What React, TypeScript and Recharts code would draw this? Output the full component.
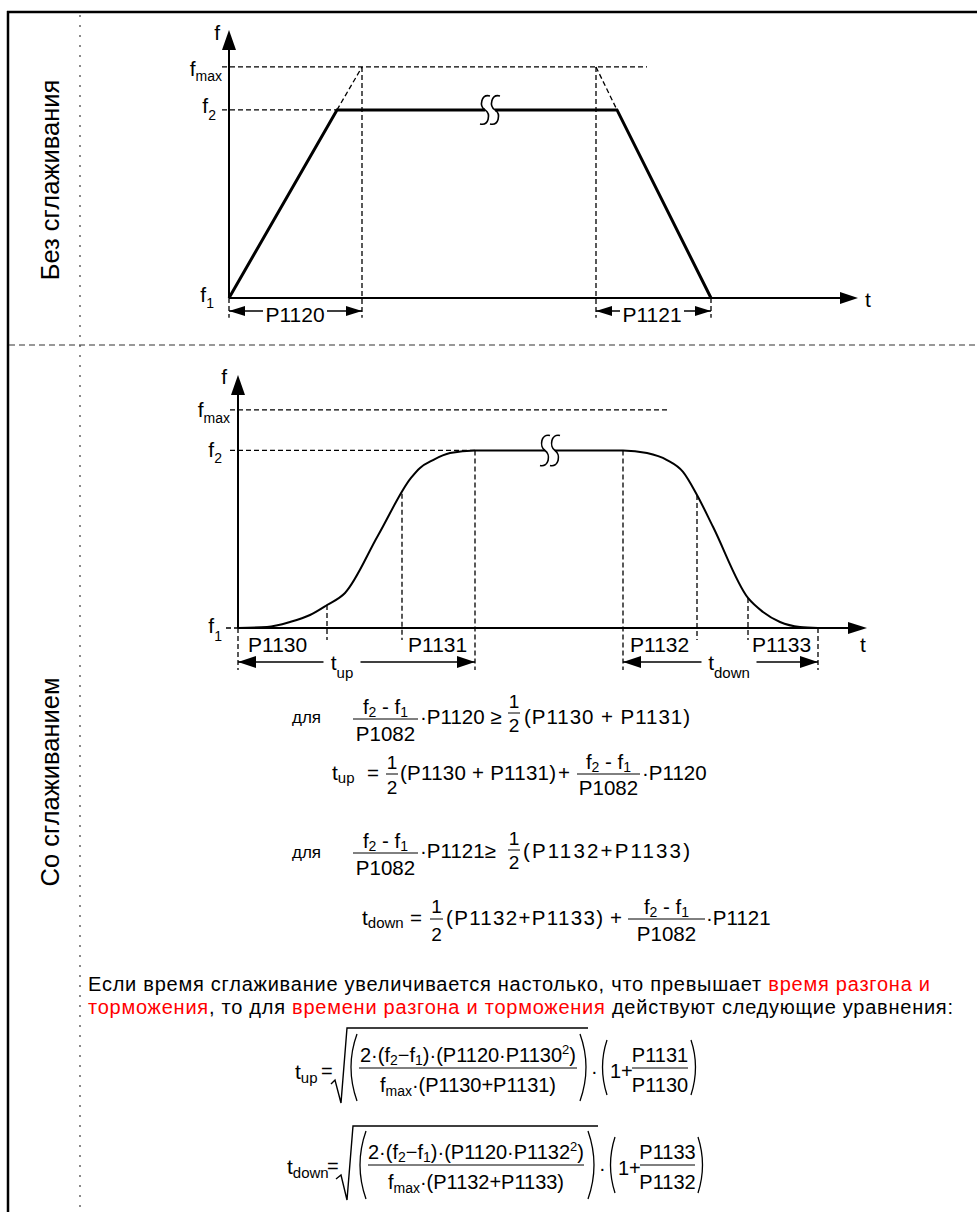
import React from 'react';
import { LineChart, Line, XAxis, YAxis, ReferenceLine, ReferenceDot } from 'recharts';

// ---------------- values ----------------
// frequency levels (chart units)
const F1 = 0;
const F2 = 40.7;
const FMAX = 50;
const F_AXIS = 58;
const T_AXIS_END = 629;

// top panel: ramp without smoothing
const topTime = [0, 108, 388, 482];
const topFreq = [0, 40.7, 40.7, 0];
const topGuideT = [0, 133, 367, 482];
const topGuideTop = [0, 50, 50, 0];
const topGuideBottom = -4.3;
const topExtFrom = [[108, 40.7], [367, 50]];
const topExtTo = [[133, 50], [388, 40.7]];
const topLevelFrom = -7;
const topFmaxTo = 418;
const topF2To = 108;
const topDimLabels = ['P1120', 'P1121'];
const topDimFrom = [0, 367];
const topDimTo = [133, 482];
const topDimLabelAt = [66, 423];
const topDimF = -2.8;
const topBreakAt = 261;

// bottom panel: ramp with smoothing
const botTime = [0, 29, 52, 72, 89, 107, 140, 173, 182, 195, 212, 237, 385, 409, 429, 445, 459, 475, 510, 525, 542, 562, 580];
const botFreq = [0, 0.23, 1.38, 2.98, 5.27, 8.03, 21.2, 34.4, 36.7, 38.5, 40.1, 40.7, 40.7, 40.1, 38.5, 35.8, 30.5, 23.2, 6.88, 3.67, 1.38, 0.23, 0];
const botGuideT = [0, 89, 164, 237, 385, 459, 510, 580];
const botGuideTop = [0, 5.27, 30.8, 40.7, 40.7, 30.5, 6.88, 0];
const botGuideBottom = [-9.6, -2.75, -2.75, -9.6, -9.6, -2.75, -2.75, -9.6];
const botSegLabels = ['P1130', 'P1131', 'P1132', 'P1133'];
const botSegLabelT = [0, 164, 385, 510];
const botDimSub = ['up', 'down'];
const botDimFrom = [0, 385];
const botDimTo = [237, 580];
const botDimLabelAt = [104, 491];
const botDimF = -7.8;
const botLevelFrom = -8;
const botFmaxTo = 431;
const botF2To = 237;
const botF1From = -12;
const botBreakAt = 312;

const topData = topTime.map((t, i) => ({ t, f: topFreq[i] }));
const botData = botTime.map((t, i) => ({ t, f: botFreq[i] }));

// ---------------- styles ----------------
const FONT = '"Liberation Sans", Arial, Helvetica, sans-serif';
const INK = '#000';
const RED = '#ff0000';
const dash = { stroke: INK, strokeWidth: 1.3, strokeDasharray: '5 3' };
const axisStroke = { stroke: INK, strokeWidth: 2 };
const botSegLabelDx = [10, 6, 7, 4];
const topDimGap = [64, 64];
const botDimGap = [37, 55];
const NB = '\u00A0';

const head = (dir: string, len: number, half: number) => (p: any) => {
  const { cx, cy } = p;
  let d = '';
  if (dir === 'r') d = `M${cx},${cy} L${cx - len},${cy - half} L${cx - len},${cy + half} Z`;
  if (dir === 'l') d = `M${cx},${cy} L${cx + len},${cy - half} L${cx + len},${cy + half} Z`;
  if (dir === 'u') d = `M${cx},${cy} L${cx - half},${cy + len} L${cx + half},${cy + len} Z`;
  return <path d={d} fill={INK} stroke="none" />;
};

const textShape = (node: React.ReactNode, dx: number, dy: number, anchor = 'start', size = 20, gap = 0) => (p: any) => (
  <g>
    {gap > 0 && <rect x={p.cx + dx - gap / 2} y={p.cy - 4} width={gap} height={8} fill="#fff" />}
    <text x={p.cx + dx} y={p.cy + dy} textAnchor={anchor} fontSize={size} fontFamily={FONT} fill={INK} stroke="none">
      {node}
    </text>
  </g>
);

const breakShape = (h: number, w: number) => (p: any) => {
  const { cx, cy } = p;
  const s = (x: number) =>
    `M${x + 5},${cy - h / 2} C${x - 4},${cy - h / 2 - 2} ${x - 6},${cy - 4} ${x},${cy} C${x + 6},${cy + 4} ${x + 4},${cy + h / 2 + 2} ${x - 5},${cy + h / 2}`;
  return (
    <g>
      <rect x={cx - 5} y={cy - w} width={10} height={2 * w} fill="#fff" />
      <path d={s(cx - 5)} fill="none" stroke={INK} strokeWidth={1.6} />
      <path d={s(cx + 5)} fill="none" stroke={INK} strokeWidth={1.6} />
    </g>
  );
};

const sub = (s: string, size = 14, d = 5) => (
  <tspan fontSize={size} dy={d}>{s}</tspan>
);

// ---------------- charts ----------------
function TopChart() {
  return (
    <LineChart width={977} height={345} data={topData} margin={{ top: 30, right: 118, bottom: 47, left: 229 }}>
      <XAxis type="number" dataKey="t" domain={[0, 630]} hide />
      <YAxis type="number" domain={[0, F_AXIS]} hide />
      <ReferenceLine segment={[{ x: topLevelFrom, y: FMAX }, { x: topFmaxTo, y: FMAX }]} {...dash} ifOverflow="visible" />
      <ReferenceLine segment={[{ x: topLevelFrom, y: F2 }, { x: topF2To, y: F2 }]} {...dash} ifOverflow="visible" />
      {topGuideT.map((t, i) => (
        <ReferenceLine key={'tg' + i} segment={[{ x: t, y: topGuideTop[i] }, { x: t, y: topGuideBottom }]} {...dash} ifOverflow="visible" />
      ))}
      {topExtFrom.map((a, i) => (
        <ReferenceLine key={'te' + i} segment={[{ x: a[0], y: a[1] }, { x: topExtTo[i][0], y: topExtTo[i][1] }]} {...dash} ifOverflow="visible" />
      ))}
      <ReferenceLine segment={[{ x: 0, y: F1 }, { x: T_AXIS_END - 10, y: F1 }]} {...axisStroke} ifOverflow="visible" />
      <ReferenceLine segment={[{ x: 0, y: F1 }, { x: 0, y: F_AXIS - 4 }]} {...axisStroke} ifOverflow="visible" />
      <ReferenceDot x={T_AXIS_END} y={F1} r={1} ifOverflow="visible" shape={head('r', 18, 6)} />
      <ReferenceDot x={0} y={F_AXIS} r={1} ifOverflow="visible" shape={head('u', 20, 7)} />
      {topDimLabels.map((lab, i) => (
        <ReferenceLine key={'td' + i} segment={[{ x: topDimFrom[i], y: topDimF }, { x: topDimTo[i], y: topDimF }]} stroke={INK} strokeWidth={1.5} ifOverflow="visible" />
      ))}
      <Line type="linear" dataKey="f" stroke={INK} strokeWidth={3} dot={false} activeDot={false} isAnimationActive={false} />
      {topDimLabels.map((lab, i) => (
        <ReferenceDot key={'tdt' + i} x={topDimLabelAt[i]} y={topDimF} r={1} ifOverflow="visible" shape={textShape(lab, 0, 11, 'middle', 21, topDimGap[i])} />
      ))}
      {topDimLabels.map((lab, i) => (
        <ReferenceDot key={'tdl' + i} x={topDimFrom[i]} y={topDimF} r={1} ifOverflow="visible" shape={head('l', 16, 5)} />
      ))}
      {topDimLabels.map((lab, i) => (
        <ReferenceDot key={'tdr' + i} x={topDimTo[i]} y={topDimF} r={1} ifOverflow="visible" shape={head('r', 16, 5)} />
      ))}
      <ReferenceDot x={0} y={F_AXIS} r={1} ifOverflow="visible" shape={textShape('f', -9, 10, 'end', 21)} />
      <ReferenceDot x={0} y={FMAX} r={1} ifOverflow="visible" shape={textShape(<>f{sub('max', 14, 5)}</>, -7, 9, 'end', 21)} />
      <ReferenceDot x={0} y={F2} r={1} ifOverflow="visible" shape={textShape(<>f{sub('2', 14, 7)}</>, -13, 3, 'end', 21)} />
      <ReferenceDot x={0} y={F1} r={1} ifOverflow="visible" shape={textShape(<>f{sub('1', 14, 6)}</>, -15, 4, 'end', 21)} />
      <ReferenceDot x={T_AXIS_END} y={F1} r={1} ifOverflow="visible" shape={textShape('t', 7, 9, 'start', 21)} />
      <ReferenceDot x={topBreakAt} y={F2} r={1} ifOverflow="visible" shape={breakShape(28, 3)} />
    </LineChart>
  );
}

function BottomChart() {
  return (
    <LineChart width={977} height={360} data={botData} margin={{ top: 30, right: 110, bottom: 77, left: 238 }}>
      <XAxis type="number" dataKey="t" domain={[0, 629]} hide />
      <YAxis type="number" domain={[0, F_AXIS]} hide />
      <ReferenceLine segment={[{ x: botLevelFrom, y: FMAX }, { x: botFmaxTo, y: FMAX }]} {...dash} ifOverflow="visible" />
      <ReferenceLine segment={[{ x: botLevelFrom, y: F2 }, { x: botF2To, y: F2 }]} {...dash} ifOverflow="visible" />
      <ReferenceLine segment={[{ x: botF1From, y: F1 }, { x: 0, y: F1 }]} {...dash} ifOverflow="visible" />
      {botGuideT.map((t, i) => (
        <ReferenceLine key={'bg' + i} segment={[{ x: t, y: botGuideTop[i] }, { x: t, y: botGuideBottom[i] }]} {...dash} ifOverflow="visible" />
      ))}
      <ReferenceLine segment={[{ x: 0, y: F1 }, { x: T_AXIS_END - 10, y: F1 }]} {...axisStroke} ifOverflow="visible" />
      <ReferenceLine segment={[{ x: 0, y: F1 }, { x: 0, y: F_AXIS - 4 }]} {...axisStroke} ifOverflow="visible" />
      <ReferenceDot x={T_AXIS_END} y={F1} r={1} ifOverflow="visible" shape={head('r', 19, 6)} />
      <ReferenceDot x={0} y={F_AXIS} r={1} ifOverflow="visible" shape={head('u', 20, 7)} />
      {botDimSub.map((s, i) => (
        <ReferenceLine key={'bd' + i} segment={[{ x: botDimFrom[i], y: botDimF }, { x: botDimTo[i], y: botDimF }]} stroke={INK} strokeWidth={1.5} ifOverflow="visible" />
      ))}
      <Line type="monotone" dataKey="f" stroke={INK} strokeWidth={2} dot={false} activeDot={false} isAnimationActive={false} />
      {botDimSub.map((s, i) => (
        <ReferenceDot key={'bdt' + i} x={botDimLabelAt[i]} y={botDimF} r={1} ifOverflow="visible" shape={textShape(<>t{sub(s, 15, 8)}</>, 0, 8, 'middle', 21, botDimGap[i])} />
      ))}
      {botDimSub.map((s, i) => (
        <ReferenceDot key={'bdl' + i} x={botDimFrom[i]} y={botDimF} r={1} ifOverflow="visible" shape={head('l', 18, 6)} />
      ))}
      {botDimSub.map((s, i) => (
        <ReferenceDot key={'bdr' + i} x={botDimTo[i]} y={botDimF} r={1} ifOverflow="visible" shape={head('r', 18, 6)} />
      ))}
      {botSegLabels.map((lab, i) => (
        <ReferenceDot key={'bs' + i} x={botSegLabelT[i]} y={F1} r={1} ifOverflow="visible" shape={textShape(lab, botSegLabelDx[i], 24, 'start', 21)} />
      ))}
      <ReferenceDot x={0} y={F_AXIS} r={1} ifOverflow="visible" shape={textShape('f', -11, 9, 'end', 21)} />
      <ReferenceDot x={0} y={FMAX} r={1} ifOverflow="visible" shape={textShape(<>f{sub('max', 14, 6)}</>, -8, 7, 'end', 21)} />
      <ReferenceDot x={0} y={F2} r={1} ifOverflow="visible" shape={textShape(<>f{sub('2', 14, 6)}</>, -16, 7, 'end', 21)} />
      <ReferenceDot x={0} y={F1} r={1} ifOverflow="visible" shape={textShape(<>f{sub('1', 14, 8)}</>, -16, 5, 'end', 21)} />
      <ReferenceDot x={T_AXIS_END} y={F1} r={1} ifOverflow="visible" shape={textShape('t', -7, 24, 'start', 21)} />
      <ReferenceDot x={botBreakAt} y={F2} r={1} ifOverflow="visible" shape={breakShape(30, 3)} />
    </LineChart>
  );
}

// ---------------- formula helpers ----------------
const f21 = (size = 14, d = 3) => (
  <>
    f<tspan fontSize={size} dy={d}>2</tspan>
    <tspan dy={-d}>{NB + '-' + NB}f</tspan>
    <tspan fontSize={size} dy={d}>1</tspan>
  </>
);

function Frac({ x1, x2, y, num, den, nd = 5, dd = 22, size = 20, nlen, dlen }: any) {
  const cx = (x1 + x2) / 2;
  return (
    <g>
      <line x1={x1} x2={x2} y1={y} y2={y} stroke={INK} strokeWidth={1} />
      <text x={cx} y={y - nd} textAnchor="middle" fontSize={size} textLength={nlen} lengthAdjust="spacing">{num}</text>
      <text x={cx} y={y + dd} textAnchor="middle" fontSize={size} textLength={dlen} lengthAdjust="spacing">{den}</text>
    </g>
  );
}

const P = (d: string, w = 1.3) => <path d={d} fill="none" stroke={INK} strokeWidth={w} />;

function Formulas() {
  return (
    <g fill={INK}>
      {/* line 1 */}
      <text x={292} y={723} fontSize={17}>для</text>
      <Frac x1={353} x2={418} y={719} num={f21()} den="P1082" nd={5} dd={22} size={20.5} />
      <text x={420} y={724} fontSize={20.5}>·P1120 ≥</text>
      <Frac x1={508} x2={520} y={713} num="1" den="2" nd={5} dd={19} size={19} />
      <text x={524} y={724} fontSize={20.5} textLength={166}>(P1130 + P1131)</text>

      {/* line 2 */}
      <text x={332} y={780} fontSize={21}>t<tspan fontSize={15} dy={3}>up</tspan></text>
      <text x={367} y={780} fontSize={20.5}>=</text>
      <Frac x1={386} x2={398} y={774} num="1" den="2" nd={5} dd={20} size={19} />
      <text x={400} y={780} fontSize={20.5} textLength={156}>(P1130 + P1131)</text>
      <text x={558} y={780} fontSize={20.5}>+</text>
      <Frac x1={577} x2={640} y={774} num={f21()} den="P1082" nd={5} dd={21} size={20.5} />
      <text x={642} y={780} fontSize={20.5}>·P1120</text>

      {/* line 3 */}
      <text x={292} y={858} fontSize={17}>для</text>
      <Frac x1={353} x2={418} y={853} num={f21()} den="P1082" nd={5} dd={22} size={20.5} />
      <text x={420} y={858} fontSize={20.5}>·P1121≥</text>
      <Frac x1={508} x2={520} y={850} num="1" den="2" nd={5} dd={19} size={19} />
      <text x={523} y={858} fontSize={20.5} textLength={167}>(P1132+P1133)</text>

      {/* line 4 */}
      <text x={362} y={925} fontSize={21}>t<tspan fontSize={15} dy={3}>down</tspan></text>
      <text x={410} y={925} fontSize={20.5}>=</text>
      <Frac x1={430} x2={443} y={919} num="1" den="2" nd={6} dd={22} size={19} />
      <text x={446} y={925} fontSize={20.5} textLength={157}>(P1132+P1133)</text>
      <text x={610} y={925} fontSize={20.5}>+</text>
      <Frac x1={628} x2={705} y={919} num={f21()} den="P1082" nd={5} dd={22} size={20.5} />
      <text x={706} y={925} fontSize={20.5}>·P1121</text>

      {/* paragraph */}
      <text x={88} y={991} fontSize={20} textLength={842} lengthAdjust="spacing">
        {'Если время сглаживание увеличивается настолько, что превышает '}
        <tspan fill={RED}>время разгона и</tspan>
      </text>
      <text x={88} y={1014} fontSize={20} textLength={865} lengthAdjust="spacing">
        <tspan fill={RED}>торможения</tspan>
        {', то для '}
        <tspan fill={RED}>времени разгона и торможения</tspan>
        {' действуют следующие уравнения:'}
      </text>

      {/* t_up big formula */}
      <text x={295} y={1079} fontSize={21}>t<tspan fontSize={15} dy={4}>up</tspan></text>
      <text x={321} y={1078} fontSize={20}>=</text>
      {P('M331,1084 L335,1080 L341,1103 L347,1028 L588,1028', 1.4)}
      {P('M357,1034 Q345,1067 357,1101')}
      <Frac
        x1={359}
        x2={577}
        y={1068}
        size={20}
        nd={6}
        dd={24}
        nlen={216}
        dlen={176}
        num={
          <>
            {'2·(f'}
            <tspan fontSize={14} dy={3}>2</tspan>
            <tspan dy={-3}>{'−f'}</tspan>
            <tspan fontSize={14} dy={3}>1</tspan>
            <tspan dy={-3}>{')·(P1120·P1130'}</tspan>
            <tspan fontSize={13} dy={-8}>2</tspan>
            <tspan dy={8}>)</tspan>
          </>
        }
        den={
          <>
            f<tspan fontSize={14} dy={4}>max</tspan>
            <tspan dy={-4}>{'·(P1130+P1131)'}</tspan>
          </>
        }
      />
      {P('M580,1034 Q592,1067 580,1101')}
      <text x={591} y={1078} fontSize={20}>·</text>
      {P('M607,1040 Q598,1067 607,1095')}
      <text x={610} y={1078} fontSize={20}>1+</text>
      <Frac x1={632} x2={688} y={1068} num="P1131" den="P1130" nd={6} dd={24} size={20} />
      {P('M691,1040 Q700,1067 691,1095')}

      {/* t_down big formula */}
      <text x={287} y={1174} fontSize={21}>t<tspan fontSize={15} dy={4}>down</tspan></text>
      <text x={327} y={1173} fontSize={20}>=</text>
      {P('M336,1179 L341,1175 L347,1200 L353,1126 L598,1126', 1.4)}
      {P('M366,1131 Q354,1165 366,1199')}
      <Frac
        x1={368}
        x2={584}
        y={1165}
        size={20}
        nd={6}
        dd={24}
        nlen={216}
        dlen={176}
        num={
          <>
            {'2·(f'}
            <tspan fontSize={14} dy={3}>2</tspan>
            <tspan dy={-3}>{'−f'}</tspan>
            <tspan fontSize={14} dy={3}>1</tspan>
            <tspan dy={-3}>{')·(P1120·P1132'}</tspan>
            <tspan fontSize={13} dy={-8}>2</tspan>
            <tspan dy={8}>)</tspan>
          </>
        }
        den={
          <>
            f<tspan fontSize={14} dy={4}>max</tspan>
            <tspan dy={-4}>{'·(P1132+P1133)'}</tspan>
          </>
        }
      />
      {P('M588,1131 Q600,1165 588,1199')}
      <text x={599} y={1175} fontSize={20}>·</text>
      {P('M615,1137 Q606,1165 615,1193')}
      <text x={618} y={1175} fontSize={20}>1+</text>
      <Frac x1={640} x2={695} y={1165} num="P1133" den="P1132" nd={6} dd={24} size={20} />
      {P('M698,1137 Q707,1165 698,1193')}
    </g>
  );
}

export default function App() {
  return (
    <div style={{ position: 'absolute', left: 0, top: 0, width: 977, height: 1212, background: '#fff', overflow: 'hidden', fontFamily: FONT }}>
      <div style={{ position: 'absolute', left: 0, top: 0 }}>
        <TopChart />
      </div>
      <div style={{ position: 'absolute', left: 0, top: 345 }}>
        <BottomChart />
      </div>
      <svg width={977} height={1212} style={{ position: 'absolute', left: 0, top: 0, pointerEvents: 'none' }} fontFamily={FONT}>
        <line x1={8} y1={11} x2={8} y2={1212} stroke={INK} strokeWidth={2.5} />
        <line x1={7} y1={12} x2={977} y2={12} stroke={INK} strokeWidth={2.5} />
        <line x1={80} y1={15} x2={80} y2={1212} stroke="#8a8a8a" strokeWidth={2} strokeDasharray="2 8" />
        <line x1={9} y1={345} x2={977} y2={345} stroke="#333" strokeWidth={1.2} strokeDasharray="6 4" />
        <text x={59} y={180} fontSize={25.5} textAnchor="middle" transform="rotate(-90 59 180)" fill={INK}>Без сглаживания</text>
        <text x={59} y={782} fontSize={25.5} textAnchor="middle" transform="rotate(-90 59 782)" fill={INK}>Со сглаживанием</text>
        <Formulas />
      </svg>
    </div>
  );
}
